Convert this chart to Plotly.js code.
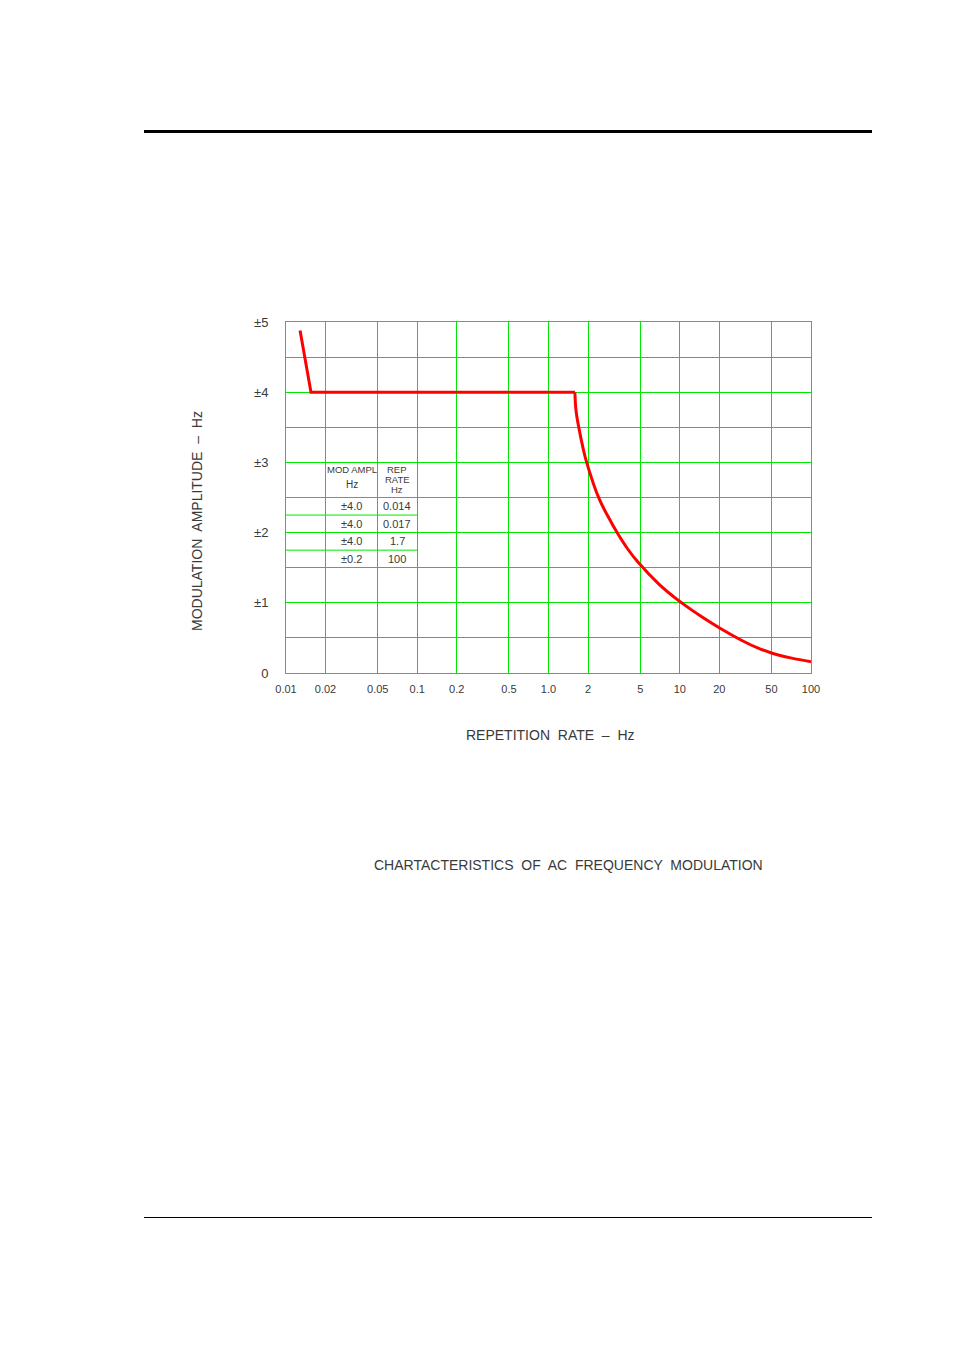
<!DOCTYPE html>
<html>
<head>
<meta charset="utf-8">
<script src="https://cdn.plot.ly/plotly-3.0.1.min.js"></script>
<style>html,body{margin:0;padding:0;background:#fff;}#chart{width:954px;height:1351px;}</style>
</head>
<body>
<div id="chart"></div>
<script>
// Straight section: repetition rate (Hz) vs modulation amplitude (±Hz)
var repRateFlat = [0.0128, 0.0155, 1.59];
var modAmplFlat = [4.88, 4.0, 4.0];
// Falling curve
var repRateCurve = [1.59, 1.62, 1.70, 1.83, 1.96, 2.42, 2.9, 3.33, 4.0, 4.8, 7.0, 10, 15, 20, 30, 40, 50, 70, 100];
var modAmplCurve = [4.0, 3.74, 3.5, 3.21, 2.99, 2.49, 2.2, 2.0, 1.77, 1.58, 1.26, 1.02, 0.79, 0.645, 0.46, 0.35, 0.285, 0.215, 0.16];

// Axis ticks
var xTickVals = [0.01, 0.02, 0.05, 0.1, 0.2, 0.5, 1, 2, 5, 10, 20, 50, 100];
var xTickText = ["0.01", "0.02", "0.05", "0.1", "0.2", "0.5", "1.0", "2", "5", "10", "20", "50", "100"];
var yTickVals = [0, 0.5, 1, 1.5, 2, 2.5, 3, 3.5, 4, 4.5, 5];
var yTickText = ["0", "", "±1", "", "±2", "", "±3", "", "±4", "", "±5"];

// Inset table
var tableAmpl = ["±4.0", "±4.0", "±4.0", "±0.2"];
var tableRate = ["0.014", "0.017", "1.7", "100"];
var tableRowY = [2.375, 2.125, 1.875, 1.625];

var GREEN = "#00e800";
var TXT = "#3a3a3a";
var FONT = "Liberation Sans, Arial, sans-serif";

var L = 286, R = 811, T = 322, B = 673, W = 954, H = 1351;
var pw = R - L, ph = B - T;
function px(x){ return (x - L) / pw; }
function py(y){ return (B - y) / ph; }

var ampCol = Math.log10(Math.sqrt(0.02 * 0.05));
var rateCol = Math.log10(Math.sqrt(0.05 * 0.1));

function ann(x, y, xref, yref, text, size, extra) {
  var a = {x: x, y: y, xref: xref, yref: yref, text: text, showarrow: false,
    xanchor: "center", yanchor: "middle", font: {family: FONT, size: size, color: TXT}};
  if (extra) for (var k in extra) a[k] = extra[k];
  return a;
}

var annotations = [];
for (var i = 0; i < tableAmpl.length; i++) {
  annotations.push(ann(ampCol, tableRowY[i], "x", "y", tableAmpl[i], 11));
  annotations.push(ann(rateCol, tableRowY[i], "x", "y", tableRate[i], 11));
}
annotations.push(ann(ampCol, 2.9, "x", "y", "MOD AMPL", 9.5));
annotations.push(ann(ampCol, 2.69, "x", "y", "Hz", 10));
annotations.push(ann(rateCol, 2.9, "x", "y", "REP", 9.5));
annotations.push(ann(rateCol, 2.755, "x", "y", "RATE", 9.5));
annotations.push(ann(rateCol, 2.61, "x", "y", "Hz", 9.5));

// axis titles and caption
annotations.push(ann(px(550), py(735), "paper", "paper", "REPETITION  RATE  –  Hz", 14));
annotations.push(ann(px(197), py(521), "paper", "paper", "MODULATION  AMPLITUDE  –  Hz", 14, {textangle: -90}));
annotations.push(ann(px(568), py(865), "paper", "paper", "CHARTACTERISTICS  OF  AC  FREQUENCY  MODULATION", 14));

var shapes = [
  {type: "line", xref: "paper", yref: "y", x0: 0, x1: 0.25, y0: 2.25, y1: 2.25, line: {color: GREEN, width: 1}},
  {type: "line", xref: "paper", yref: "y", x0: 0, x1: 0.25, y0: 1.75, y1: 1.75, line: {color: GREEN, width: 1}},
  {type: "line", xref: "paper", yref: "paper", x0: px(144), x1: px(872), y0: py(131.5), y1: py(131.5), line: {color: "#000", width: 3}},
  {type: "line", xref: "paper", yref: "paper", x0: px(144), x1: px(872), y0: py(1217.5), y1: py(1217.5), line: {color: "#000", width: 1}}
];

var data = [
  {x: repRateFlat, y: modAmplFlat, type: "scatter", mode: "lines",
   line: {color: "#ff0000", width: 3}, hoverinfo: "skip"},
  {x: repRateCurve, y: modAmplCurve, type: "scatter", mode: "lines",
   line: {color: "#ff0000", width: 3, shape: "spline", smoothing: 1.2}, hoverinfo: "skip"}
];

var layout = {
  width: W, height: H,
  margin: {l: L, r: W - R, t: T, b: H - B, pad: 0},
  paper_bgcolor: "#fff", plot_bgcolor: "#fff",
  showlegend: false,
  xaxis: {
    type: "log", range: [-2, 2],
    tickmode: "array", tickvals: xTickVals, ticktext: xTickText,
    showgrid: true, gridcolor: GREEN, gridwidth: 1,
    showline: true, linecolor: GREEN, linewidth: 1, mirror: true,
    zeroline: false, ticks: "", ticklabelstandoff: 6,
    tickfont: {family: FONT, size: 11, color: TXT}
  },
  yaxis: {
    range: [0, 5],
    tickmode: "array", tickvals: yTickVals, ticktext: yTickText,
    showgrid: true, gridcolor: GREEN, gridwidth: 1,
    showline: true, linecolor: GREEN, linewidth: 1, mirror: true,
    zeroline: false, ticks: "", ticklabelstandoff: 14,
    tickfont: {family: FONT, size: 13, color: TXT}
  },
  annotations: annotations,
  shapes: shapes
};

Plotly.newPlot("chart", data, layout, {staticPlot: true, displayModeBar: false});
</script>
</body>
</html>
